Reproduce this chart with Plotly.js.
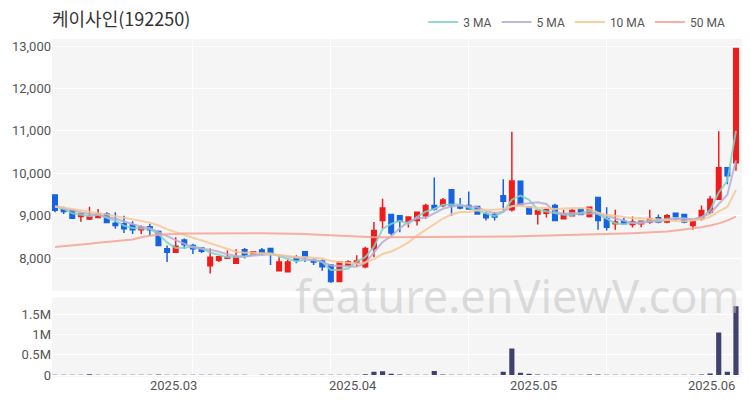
<!DOCTYPE html>
<html><head><meta charset="utf-8">
<script src="https://cdn.plot.ly/plotly-3.0.1.min.js"></script>
<style>html,body{margin:0;padding:0;background:#fff}</style>
</head><body><div id="chart" style="width:750px;height:400px"></div>
<script>
const dates = ['2025-02-11','2025-02-12','2025-02-13','2025-02-14','2025-02-17','2025-02-18','2025-02-19','2025-02-20','2025-02-21','2025-02-24','2025-02-25','2025-02-26','2025-02-27','2025-02-28',
'2025-03-04','2025-03-05','2025-03-06','2025-03-07','2025-03-10','2025-03-11','2025-03-12','2025-03-13','2025-03-14','2025-03-17','2025-03-18','2025-03-19','2025-03-20','2025-03-21','2025-03-24','2025-03-25','2025-03-26','2025-03-27','2025-03-28','2025-03-31',
'2025-04-01','2025-04-02','2025-04-03','2025-04-04','2025-04-07','2025-04-08','2025-04-09','2025-04-10','2025-04-11','2025-04-14','2025-04-15','2025-04-16','2025-04-17','2025-04-18','2025-04-21','2025-04-22','2025-04-23','2025-04-24','2025-04-25','2025-04-28','2025-04-29','2025-04-30',
'2025-05-02','2025-05-07','2025-05-08','2025-05-09','2025-05-12','2025-05-13','2025-05-14','2025-05-15','2025-05-16','2025-05-19','2025-05-20','2025-05-21','2025-05-22','2025-05-23','2025-05-26','2025-05-27','2025-05-28','2025-05-29','2025-05-30',
'2025-06-02','2025-06-04','2025-06-05','2025-06-09','2025-06-10'];

const openP = [9490,9160,9120,8980,8920,8960,9040,8820,8810,8780, 8670,8740,8630,8220,8140,8430,8300,8240,7820,7950, 8000,7880,8200,8090,8190,8230,7700,7680,8020,8150, 7950,7930,7840,7450,7840,7880,7800,8230,8890,9030, 9000,8870,8890,9000,9240,9240,9610,9230,9240,9220, 9040,9030,9470,9140,9810,9200,9040,9060,9240,8930, 9000,9160,8980,9430,8930,8810,8870,8790,8810,8850, 8950,8850,9060,9030,8770,8930,9080,9390,10130,10250];
const highP = [9490,9210,9160,9040,9210,9160,9080,9080,9000,8870, 8770,8810,8650,8300,8490,8460,8340,8260,8230,8030, 8180,8210,8240,8150,8240,8230,8020,7970,8070,8150, 7990,7970,7840,7930,7950,8070,8270,8850,9400,9030, 9000,8970,9080,9280,9900,9420,9610,9420,9570,9220, 9090,9090,9860,10980,9810,9200,9120,9140,9280,9140, 9160,9170,9220,9430,9200,9140,8950,8980,8870,9140, 9030,9040,9060,9040,8890,9240,9470,10990,10130,12940];
const lowP = [9080,9040,8920,8860,8900,8940,8820,8690,8590,8570, 8570,8530,8300,7910,8140,8220,8100,8120,7640,7910, 7990,7880,7990,8090,8070,7840,7700,7660,7880,7910, 7840,7700,7420,7450,7810,7810,7760,8020,8690,8540, 8610,8720,8770,8930,9120,9200,9000,9150,9160,9040, 8890,8890,9120,9100,9260,9040,8790,8960,8890,8930, 8980,9020,8960,8670,8650,8670,8810,8720,8730,8810, 8820,8820,8890,8820,8670,8890,9040,9370,9740,10060];
const closeP = [9130,9100,8940,9040,8980,9040,8840,8770,8690,8670, 8730,8670,8300,8140,8280,8320,8220,8160,8020,8030, 8020,8030,8070,8150,8110,8110,7910,7910,7950,8020, 7910,7800,7450,7910,7910,7930,8230,8650,9180,8590, 8870,8970,9080,9240,9160,9370,9240,9180,9160,9040, 8950,8970,9340,9820,9260,9040,9120,9140,8890,9040, 9120,9030,9200,8890,8730,8850,8810,8850,8870,8930, 8850,9000,8980,8850,8890,9120,9390,10130,9940,12940];
const volume = [8000,6000,5000,7000,20000,6000,5000,4000,6000,5000, 7000,5000,15000,6000,5000,4000,5000,6000,7000,4000, 5000,4000,6000,3000,4000,5000,6000,7000,4000,5000, 4000,6000,9000,8000,5000,6000,20000,80000,96000,32000, 12000,8000,7000,9000,100000,10000,9000,6000,7000,6000, 5000,6000,82000,658000,58000,30000,12000,8000,7000,9000, 6000,5000,12000,14000,8000,7000,5000,6000,9000,8000, 6000,7000,5000,6000,9000,12000,40000,1050000,80000,1700000];

const ma3 = [9220,9160,9057,9027,8987,9020,8953,8883,8767,8710, 8697,8690,8567,8370,8240,8247,8273,8233,8133,8070, 8023,8027,8040,8083,8110,8123,8043,7977,7923,7960, 7960,7910,7720,7720,7757,7917,8023,8270,8687,8807, 8880,8810,8973,9097,9160,9257,9257,9263,9193,9127, 9050,8987,9087,9377,9473,9373,9140,9100,9050,9023, 9017,9063,9117,9040,8940,8823,8797,8837,8843,8883, 8883,8927,8943,8943,8907,8953,9133,9547,9820,11003];
const ma5 = [9230,9180,9120,9080,9038,9020,8968,8934,8864,8802, 8740,8706,8612,8502,8424,8342,8252,8224,8200,8150, 8090,8052,8034,8060,8076,8094,8070,8038,7998,7980, 7940,7918,7826,7818,7796,7800,7886,8126,8380,8516, 8704,8852,8938,8950,9064,9164,9218,9238,9222,9198, 9114,9060,9092,9224,9268,9286,9316,9276,9090,9046, 9062,9044,9056,9056,8994,8940,8896,8826,8822,8862, 8862,8900,8926,8922,8914,8968,9046,9276,9494,10304];
const ma10 = [9210,9190,9160,9130,9090,9060,9030,8990,8950,8920, 8880,8837,8773,8683,8613,8541,8479,8418,8351,8287, 8216,8152,8129,8130,8113,8092,8061,8036,8029,8028, 8017,7994,7932,7908,7888,7870,7902,7976,8099,8156, 8252,8369,8532,8665,8790,8934,9035,9088,9086,9131, 9139,9139,9165,9223,9233,9200,9188,9184,9157,9157, 9174,9180,9166,9073,9020,9001,8970,8941,8939,8928, 8901,8898,8876,8872,8888,8915,8973,9101,9208,9609];
const ma50 = [8265,8280,8300,8320,8340,8360,8380,8400,8420,8440, 8490,8530,8550,8565,8575,8580,8582,8585,8585,8585, 8588,8590,8590,8588,8585,8585,8582,8580,8578,8570, 8560,8550,8535,8525,8515,8505,8500,8495,8495,8495, 8495,8495,8495,8495,8497,8498,8500,8500,8500,8500, 8502,8505,8508,8512,8516,8520,8524,8528,8532,8536, 8540,8545,8550,8556,8562,8570,8578,8586,8595,8605, 8615,8630,8650,8675,8700,8730,8770,8820,8890,8980];

const maNames = ['3 MA','5 MA','10 MA','50 MA'];
const maColors = ['#7dd3c7','#b9acd3','#f6c793','#f5a393'];
const monthLabels = ['2025.03','2025.04','2025.05','2025.06'];
const monthLabelPos = [13.7, 34.6, 55.5, 76.2];
const gridPos = [16, 32, 48, 64];
const priceTicks = [8000,9000,10000,11000,12000,13000];
const volTicks = [0,500000,1000000,1500000];
const volTickText = ['0','0.5M','1M','1.5M'];

const RED = '#f01c1c', BLUE = '#1662e0';
const xr = [-0.35, 79.7];

const traces = [];
traces.push({
  type:'candlestick', x:dates, open:openP, high:highP, low:lowP, close:closeP,
  xaxis:'x', yaxis:'y', showlegend:false, whiskerwidth:0,
  increasing:{line:{color:RED,width:1.5}, fillcolor:RED},
  decreasing:{line:{color:BLUE,width:1.5}, fillcolor:BLUE},
  hoverinfo:'skip'
});
[ma3,ma5,ma10,ma50].forEach((arr,i)=>{
  traces.push({type:'scatter', mode:'lines', x:dates, y:arr, name:maNames[i],
    xaxis:'x', yaxis:'y', line:{color:maColors[i], width:2}, opacity:0.85, hoverinfo:'skip'});
});
traces.push({type:'bar', x:dates, y:volume, xaxis:'x2', yaxis:'y2', showlegend:false,
  marker:{color:'#414170'}, hoverinfo:'skip'});

const gridC = '#ffffff';
const tickFont = {family:'Roboto, "Noto Sans CJK KR", sans-serif', size:13, color:'#555'};
const annotations = monthLabels.map((t,i)=>({text:t, xref:'x2', yref:'paper', x:monthLabelPos[i], y:0,
  xanchor:'center', yanchor:'top', yshift:1, showarrow:false, font:tickFont}));
annotations.push({text:'feature.enViewV.com', xref:'paper', yref:'paper', x:0.674, y:0.232,
    xanchor:'center', yanchor:'middle', yshift:3, showarrow:false,
    font:{family:'"Noto Sans", sans-serif', size:45, color:'rgba(190,190,190,0.5)'}});

const layout = {
  width:750, height:400,
  margin:{l:52, r:8, t:37, b:23},
  paper_bgcolor:'#ffffff', plot_bgcolor:'#f5f5f5',
  font:{family:'Roboto, "Noto Sans CJK KR", sans-serif', color:'#444'},
  title:{text:'케이사인(192250)', x:52/750, xanchor:'left', y:0.95, yanchor:'middle',
    font:{family:'"Noto Sans CJK KR", sans-serif', size:18, color:'#333'}},
  showlegend:true,
  legend:{orientation:'h', x:0.983, xanchor:'right', y:1.05, yanchor:'middle',
    font:{family:'Roboto, sans-serif', size:12, color:'#555'}, bgcolor:'rgba(0,0,0,0)', itemwidth:30, tracegroupgap:0},
  bargap:0.4, boxgap:0.3, boxgroupgap:0.25,
  xaxis:{type:'category', domain:[0,1], anchor:'y', range:xr, rangeslider:{visible:false},
    tickmode:'array', tickvals:gridPos.map(i=>dates[i]), showticklabels:false, ticks:'',
    showgrid:true, gridcolor:gridC, gridwidth:1, zeroline:false, showline:false, fixedrange:true},
  xaxis2:{type:'category', domain:[0,1], anchor:'y2', range:xr, matches:'x',
    tickmode:'array', tickvals:gridPos.map(i=>dates[i]), showticklabels:false, ticks:'',
    showgrid:true, gridcolor:gridC, gridwidth:1, zeroline:false, showline:false},
  yaxis:{domain:[0.255,1], anchor:'x', range:[7230,13165], tickmode:'array', tickvals:priceTicks,
    tickformat:',d', showgrid:true, gridcolor:gridC, gridwidth:1, zeroline:false, tickfont:tickFont, ticks:''},
  yaxis2:{domain:[0,0.235], anchor:'x2', range:[-49000,1918000], tickmode:'array', tickvals:volTicks,
    ticktext:volTickText, showgrid:true, gridcolor:gridC, gridwidth:1, zeroline:false, tickfont:tickFont, ticks:''},
  annotations:annotations
};
Plotly.newPlot('chart', traces, layout, {staticPlot:true, displayModeBar:false});
</script></body></html>
